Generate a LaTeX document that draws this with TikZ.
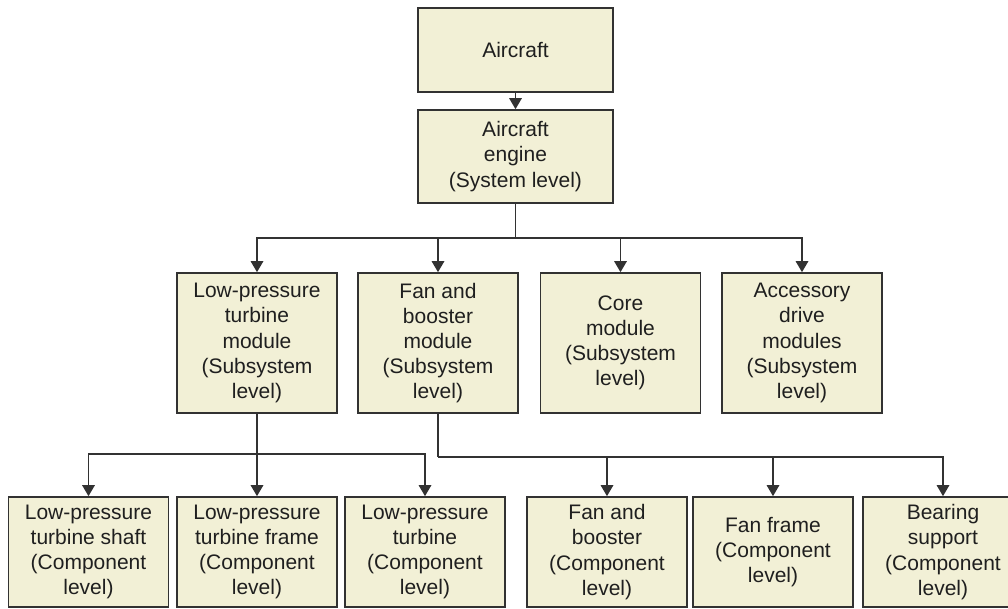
\documentclass[tikz,border=0pt]{standalone}
\usepackage{fontspec}
\setmainfont{Liberation Sans}
\usetikzlibrary{arrows.meta}
\definecolor{boxfill}{RGB}{242,240,214}
\definecolor{boxline}{RGB}{50,50,50}
\tikzset{
  box_node/.style = {rectangle, draw=boxline, fill=boxfill, line width=0.8pt,
    align=center, inner sep=0pt, text=black!88,
    font=\fontsize{10.5}{12.6}\selectfont},% base box
  top_node/.style = {box_node, minimum width=97.5pt},% aircraft, system level
  sub_node/.style = {box_node, minimum width=80pt, minimum height=70pt},% subsystem level
  comp_node/.style = {box_node, minimum width=80pt, minimum height=55pt},% component level
  tree_line/.style = {draw=boxline, line width=0.85pt},
  tree_arrow/.style = {tree_line, -{Triangle[length=5.5pt, width=6.2pt]}}
}
\begin{document}
\begin{tikzpicture}[x=0.5pt, y=-0.5pt]
  \useasboundingbox (0,0) rectangle (1008,609);
  % aircraft and system
  \node [top_node, minimum height=42pt] (aircraft) at (515.5,50) {Aircraft};
  \node [top_node, minimum height=46.5pt] (engine) at (515.5,156.5)
    {Aircraft\\engine\\(System level)};
  % subsystems
  \node [sub_node] (lpt_mod) at (257,343)
    {Low-pressure\\turbine\\module\\(Subsystem\\level)};
  \node [sub_node] (fan_mod) at (438,343)
    {Fan and\\booster\\module\\(Subsystem\\level)};
  \node [sub_node] (core_mod) at (620.5,343)
    {Core\\module\\(Subsystem\\level)};
  \node [sub_node] (acc_mod) at (802,343)
    {Accessory\\drive\\modules\\(Subsystem\\level)};
  % components
  \node [comp_node] (lpt_shaft) at (88.5,552)
    {Low-pressure\\turbine shaft\\(Component\\level)};
  \node [comp_node] (lpt_frame) at (257,552)
    {Low-pressure\\turbine frame\\(Component\\level)};
  \node [comp_node] (lpt_turb) at (425,552)
    {Low-pressure\\turbine\\(Component\\level)};
  \node [comp_node] (fan_boost) at (607,552)
    {Fan and\\booster\\(Component\\level)};
  \node [comp_node] (fan_frame) at (773,552)
    {Fan frame\\(Component\\level)};
  \node [comp_node] (bearing) at (943,552)
    {Bearing\\support\\(Component\\level)};
  % branch points
  \coordinate (sys_split) at (515.5,238);
  \coordinate (lpt_split) at (257,454);
  \coordinate (fan_split) at (438,457);

  \draw [tree_arrow] (aircraft) -- (engine);
  \draw [tree_line] (engine) -- (sys_split);
  \foreach \n in {lpt_mod, fan_mod, core_mod, acc_mod}
    \draw [tree_arrow] (sys_split) -| (\n.north);
  \draw [tree_line] (lpt_mod) -- (lpt_split);
  \foreach \n in {lpt_shaft, lpt_frame, lpt_turb}
    \draw [tree_arrow] (lpt_split) -| (\n.north);
  \draw [tree_line] (fan_mod) -- (fan_split);
  \foreach \n in {fan_boost, fan_frame, bearing}
    \draw [tree_arrow] (fan_split) -| (\n.north);
\end{tikzpicture}
\end{document}
